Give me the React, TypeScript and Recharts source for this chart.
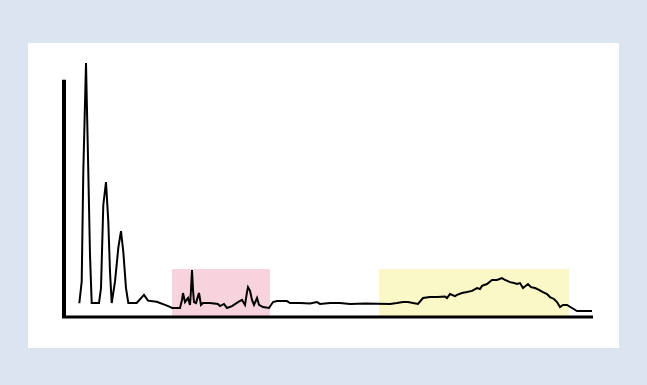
import { LineChart, Line, XAxis, YAxis, ReferenceArea, ReferenceLine } from 'recharts';

// retention time (min) and detector response (% of scale)
const times = [
  1.53, 1.77, 1.93, 2.2, 2.43, 2.6, 2.77, 3.5, 3.7, 3.93, 4.2, 4.43, 4.6, 4.77,
  5.1, 5.43, 5.7, 5.93, 6.2, 6.43, 7.27, 8.0, 8.4, 9.27, 10.1, 10.6,
  10.8, 11.6, 11.8, 11.9, 12.1, 12.4, 12.6, 12.7, 12.8, 12.9, 13.0, 13.2, 13.4,
  13.5, 13.7, 13.9, 14.6, 15.4, 15.6, 16.0, 16.3, 16.8, 17.4, 17.8, 18.1, 18.3,
  18.4, 18.6, 18.8, 19.0, 19.3, 19.5, 19.9, 20.5, 20.9, 21.3, 22.3, 22.6, 23.6,
  24.6, 25.3, 25.6, 26.6, 27.6, 28.6, 30.1, 32.6,
  33.3, 33.9, 34.4, 34.9, 35.4, 35.9, 36.6, 37.3, 38.1, 38.3, 38.6, 39.1, 39.3,
  39.8, 40.3, 40.8, 41.3, 41.6, 41.8, 42.3, 42.8, 43.3, 43.8, 44.1, 44.6, 45.0,
  45.3, 45.6, 45.9, 46.4, 46.7, 47.1, 47.5, 47.9, 48.3, 48.6, 49.0, 49.3, 49.6,
  49.9, 50.3, 50.8, 51.3, 52.8,
];

const response = [
  5.8, 14.9, 61.2, 107, 61.2, 26.1, 5.9, 5.9, 12.2, 47.2, 56.9, 40.2, 19.1, 5.9,
  14.9, 29.1, 36.2, 27.5, 12.2, 5.9, 5.9, 9.3, 6.9, 6.4, 5.1, 4.3,
  3.8, 3.8, 7.2, 10.1, 6.3, 8.0, 5.1, 11.4, 19.8, 11.4, 6.3, 5.9, 8.8,
  10.1, 5.1, 5.9, 5.9, 5.5, 4.6, 5.5, 3.8, 4.6, 6.3, 7.2, 5.1, 10.5,
  12.6, 11.0, 7.2, 5.1, 8.0, 5.1, 4.2, 3.8, 6.3, 6.7, 6.7, 5.9, 5.9,
  5.7, 6.3, 5.5, 5.9, 5.9, 5.5, 5.7, 5.5,
  5.9, 6.3, 6.3, 5.9, 5.5, 8.0, 8.4, 8.4, 8.6, 8.0, 9.7, 8.8, 9.3,
  10.1, 10.5, 11.0, 12.2, 11.8, 13.1, 13.9, 15.6, 15.6, 16.4, 15.6, 14.7, 14.3,
  13.9, 14.3, 12.2, 13.9, 12.6, 12.2, 11.4, 10.5, 9.7, 8.4, 7.6, 6.3, 4.2,
  5.1, 5.1, 3.8, 2.5, 2.5,
];

// highlighted elution windows
const pinkWindow = [10.8, 20.6];
const yellowWindow = [31.5, 50.5];
const windowHeight = 20.2;

const data = times.map((t, i) => ({ t, v: response[i] }));

export default function App() {
  return (
    <div style={{ position: 'fixed', left: 0, top: 0, width: 647, height: 385, background: '#dbe4ef' }}>
      <div style={{ position: 'absolute', left: 28, top: 43, width: 591, height: 305, background: '#ffffff' }} />
      <div style={{ position: 'absolute', left: 0, top: 0 }}>
        <LineChart width={647} height={385} data={data} margin={{ top: 56, right: 53, bottom: 68, left: 64 }}>
          <XAxis type="number" dataKey="t" domain={[0, 53]} hide />
          <YAxis type="number" domain={[0, 110]} hide />
          <ReferenceArea x1={pinkWindow[0]} x2={pinkWindow[1]} y1={0} y2={windowHeight} fill="#f7d3dd" fillOpacity={1} stroke="none" />
          <ReferenceArea x1={yellowWindow[0]} x2={yellowWindow[1]} y1={0} y2={windowHeight} fill="#f9f8c6" fillOpacity={1} stroke="none" />
          {/* axes drawn as plain segments */}
          <ReferenceLine segment={[{ x: -0.2, y: 0 }, { x: 52.9, y: 0 }]} stroke="#000" strokeWidth={3} ifOverflow="visible" />
          <ReferenceLine segment={[{ x: 0, y: 0 }, { x: 0, y: 100 }]} stroke="#000" strokeWidth={4} />
          <Line
            type="linear"
            dataKey="v"
            stroke="#000"
            strokeWidth={2}
            dot={false}
            isAnimationActive={false}
          />
        </LineChart>
      </div>
    </div>
  );
}
